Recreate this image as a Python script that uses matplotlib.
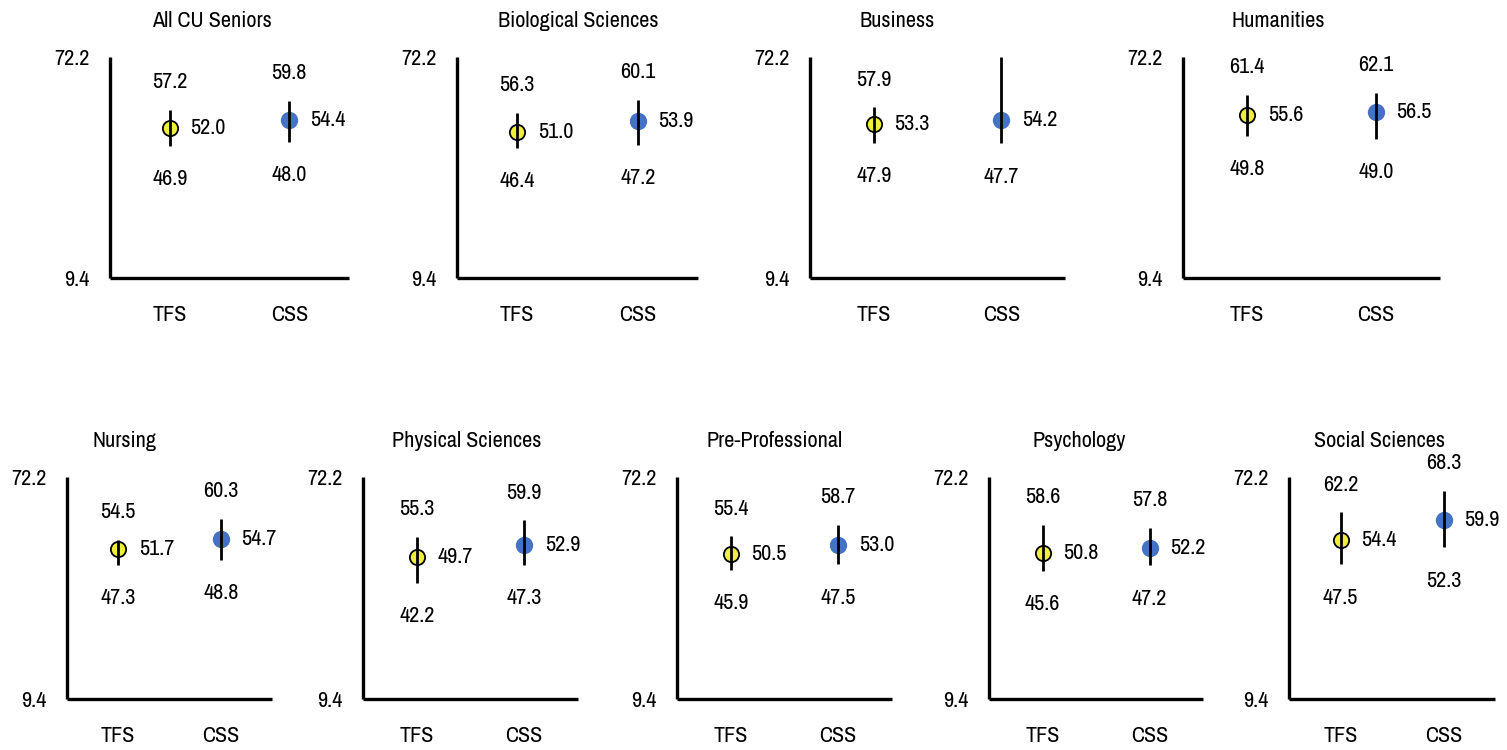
import matplotlib
matplotlib.use("Agg")
import matplotlib.pyplot as plt
from matplotlib import font_manager

# ---------------- data ----------------
panels = ["All CU Seniors", "Biological Sciences", "Business", "Humanities",
          "Nursing", "Physical Sciences", "Pre-Professional", "Psychology", "Social Sciences"]
groups = ["TFS", "CSS"]

tfs_mean = [52.0, 51.0, 53.3, 55.6, 51.7, 49.7, 50.5, 50.8, 54.4]
tfs_high = [57.2, 56.3, 57.9, 61.4, 54.5, 55.3, 55.4, 58.6, 62.2]
tfs_low  = [46.9, 46.4, 47.9, 49.8, 47.3, 42.2, 45.9, 45.6, 47.5]

css_mean = [54.4, 53.9, 54.2, 56.5, 54.7, 52.9, 53.0, 52.2, 59.9]
css_high = [59.8, 60.1, 72.2, 62.1, 60.3, 59.9, 58.7, 57.8, 68.3]
css_low  = [48.0, 47.2, 47.7, 49.0, 48.8, 47.3, 47.5, 47.2, 52.3]
# Business CSS upper bound runs off the top of the axis; its label is not shown
css_high_label_shown = [True, True, False, True, True, True, True, True, True]

y_min, y_max = 9.4, 72.2

# ---------------- layout ----------------
W, H = 1507, 750
# (left, right, top, bottom) in pixels
boxes = [(110, 349, 57, 278), (457, 698, 57, 278), (810, 1065, 57, 278), (1183, 1440, 57, 278),
         (67, 272, 477, 699), (363, 578, 477, 699), (677, 892, 477, 699), (989, 1203, 477, 699),
         (1289, 1495, 477, 699)]
title_pos = [(212, 21), (578, 21), (897, 21), (1278, 21),
             (125, 441), (467, 441), (775, 441), (1079, 441), (1379, 441)]


def has_font(name):
    try:
        font_manager.findfont(font_manager.FontProperties(family=name), fallback_to_default=False)
        return True
    except Exception:
        return False


if has_font("Archivo Narrow"):
    fam = ["Archivo Narrow", "DejaVu Sans"]
    fs = 16
elif has_font("Roboto Condensed"):
    fam = ["Roboto Condensed", "DejaVu Sans"]
    fs = 15
else:
    fam = ["Liberation Sans", "DejaVu Sans"]
    fs = 13
plt.rcParams["font.family"] = fam

YELLOW = "#EFEF3A"
BLUE = "#4472C4"

fig = plt.figure(figsize=(W / 100, H / 100), dpi=100)

for i, name in enumerate(panels):
    L, R, T, B = boxes[i]
    ax = fig.add_axes([L / W, 1 - B / H, (R - L) / W, (B - T) / H])
    ax.set_xlim(-0.5, 1.5)
    ax.set_ylim(y_min, y_max)
    for s in ["top", "right"]:
        ax.spines[s].set_visible(False)
    for s in ["left", "bottom"]:
        ax.spines[s].set_linewidth(2.4)
        ax.spines[s].set_color("black")
        ax.spines[s].set_capstyle("butt")
    ax.set_yticks([y_min, y_max])
    ax.set_yticklabels([f"{y_min:.1f}", f"{y_max:.1f}"])
    ax.set_xticks([0, 1])
    ax.set_xticklabels(groups)
    ax.tick_params(axis="y", length=0, pad=15, labelsize=fs)
    ax.tick_params(axis="x", length=0, pad=19.5, labelsize=fs)

    data = [(tfs_mean[i], tfs_high[i], tfs_low[i], True),
            (css_mean[i], css_high[i], css_low[i], css_high_label_shown[i])]
    for x, (m, hi, lo, show_hi) in enumerate(data):
        if x == 0:
            ax.plot([x], [m], marker="o", ms=11, mfc=YELLOW, mec="black", mew=1.3,
                    ls="none", zorder=3, clip_on=False)
        else:
            ax.plot([x], [m], marker="o", ms=12.5, mfc=BLUE, mec=BLUE, mew=0,
                    ls="none", zorder=3, clip_on=False)
        ax.vlines(x, lo, hi, colors="black", lw=2.0, zorder=4)
        ax.annotate(f"{m:.1f}", (x, m), xytext=(15, 0), textcoords="offset points",
                    ha="left", va="center", fontsize=fs)
        if show_hi:
            ax.annotate(f"{hi:.1f}", (x, hi), xytext=(0, 20), textcoords="offset points",
                        ha="center", va="center", fontsize=fs)
        ax.annotate(f"{lo:.1f}", (x, lo), xytext=(0, -24), textcoords="offset points",
                    ha="center", va="center", fontsize=fs)

    tx, ty = title_pos[i]
    fig.text(tx / W, 1 - ty / H, name, ha="center", va="center", fontsize=fs)

fig.savefig("out.png", dpi=100, facecolor="white")
